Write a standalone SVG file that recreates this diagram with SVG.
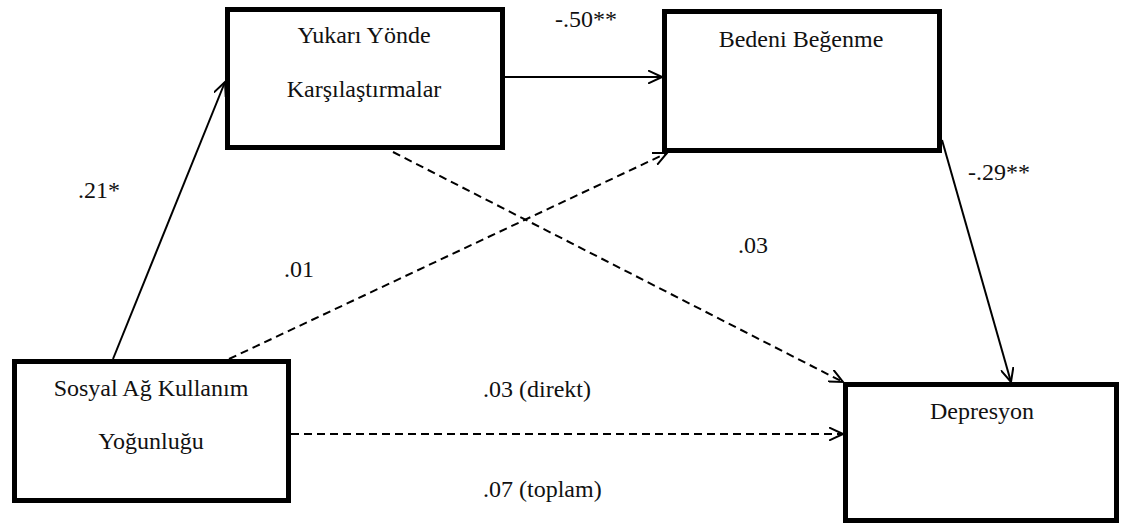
<svg xmlns="http://www.w3.org/2000/svg" width="1122" height="524" viewBox="0 0 1122 524">
<style>
.box{fill:#fff;stroke:#000;stroke-width:5}
.t{font-family:'Liberation Serif','Times New Roman',Times,'DejaVu Serif',serif;font-size:24px;fill:#111}
.c{text-anchor:middle}
.solid{stroke:#000;stroke-width:2;fill:none}
.dash{stroke:#000;stroke-width:2;fill:none;stroke-dasharray:8 5}
</style>
<defs>
<marker id="arr" markerUnits="userSpaceOnUse" markerWidth="16" markerHeight="14" refX="14" refY="7" orient="auto" viewBox="0 0 16 14">
<path d="M0,0.5 L14,7 L0,13.5" fill="none" stroke="#000" stroke-width="2"/>
</marker>
</defs>
<rect width="1122" height="524" fill="#fff"/>
<g id="connectors">
<line class="solid" x1="113" y1="359" x2="225" y2="82" marker-end="url(#arr)"/>
<line class="solid" x1="505" y1="77" x2="662" y2="77" marker-end="url(#arr)"/>
<line class="dash" x1="393" y1="152" x2="843" y2="382" marker-end="url(#arr)"/>
<line class="dash" x1="229" y1="359" x2="667" y2="153" marker-end="url(#arr)"/>
<line class="solid" x1="942" y1="140" x2="1011" y2="382" marker-end="url(#arr)"/>
<line class="dash" x1="291" y1="434" x2="843" y2="434" marker-end="url(#arr)"/>
</g>
<g id="labels">
<text class="t" font-family="Liberation Serif, serif" x="555" y="27">-.50**</text>
<text class="t" font-family="Liberation Serif, serif" x="78" y="198">.21*</text>
<text class="t" font-family="Liberation Serif, serif" x="968" y="180">-.29**</text>
<text class="t" font-family="Liberation Serif, serif" x="738" y="253">.03</text>
<text class="t" font-family="Liberation Serif, serif" x="284" y="277">.01</text>
<text class="t" font-family="Liberation Serif, serif" x="483" y="397">.03 (direkt)</text>
<text class="t" font-family="Liberation Serif, serif" x="483" y="497">.07 (toplam)</text>
</g>
<g id="node-yukari">
<rect class="box" x="227.5" y="9.5" width="275" height="138"/>
<text class="t c" x="364" y="43">Yukarı Yönde</text>
<text class="t c" x="364" y="97">Karşılaştırmalar</text>
</g>
<g id="node-bedeni">
<rect class="box" x="664.5" y="11.5" width="275" height="139"/>
<text class="t c" x="801" y="47">Bedeni Beğenme</text>
</g>
<g id="node-sosyal">
<rect class="box" x="14.5" y="361.5" width="274" height="139"/>
<text class="t c" x="151" y="396">Sosyal Ağ Kullanım</text>
<text class="t c" x="151" y="449">Yoğunluğu</text>
</g>
<g id="node-depresyon">
<rect class="box" x="845.5" y="384.5" width="271" height="136"/>
<text class="t c" x="982" y="419">Depresyon</text>
</g>
</svg>
